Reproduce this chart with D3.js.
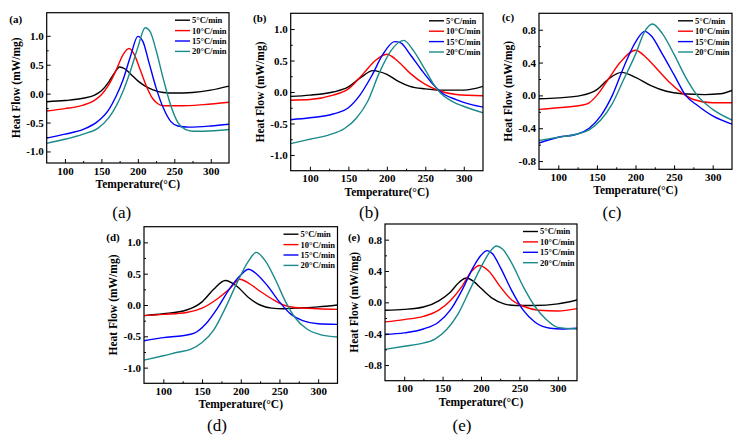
<!DOCTYPE html>
<html><head><meta charset="utf-8">
<script src="https://cdn.jsdelivr.net/npm/d3@7"></script>
<style>
html,body{margin:0;padding:0;background:#fff;}
svg{display:block;}
</style></head>
<body>
<svg id="chart" width="740" height="438"></svg>
<script>
// ---------- DATA ----------
const rates = ["5\u00B0C/min", "10\u00B0C/min", "15\u00B0C/min", "20\u00B0C/min"];
const colors = ["#000000", "#ff0000", "#0000ff", "#1a8a8a"];
const xTicks = [100, 150, 200, 250, 300];
const xMinor = [125, 175, 225, 275];
const yTicksWide = [-1.0, -0.5, 0.0, 0.5, 1.0];
const yTicksNarrow = [-0.8, -0.4, 0.0, 0.4, 0.8];
const panelNames = ["a", "b", "c", "d", "e"];

// panel (a)  [temperature, heat flow]
const a5 = [[75,-0.14],[100,-0.12],[125,-0.08],[140,-0.03],[150,0.05],[160,0.2],[168,0.36],[175,0.46],[182,0.43],[190,0.34],[200,0.22],[210,0.13],[220,0.07],[235,0.02],[250,0.01],[275,0.02],[300,0.06],[325,0.13]];
const a10 = [[75,-0.30],[100,-0.26],[125,-0.2],[140,-0.12],[150,-0.02],[160,0.15],[170,0.4],[180,0.68],[188,0.78],[195,0.68],[203,0.42],[212,0.12],[220,-0.08],[228,-0.18],[235,-0.21],[260,-0.21],[290,-0.19],[325,-0.15]];
const a15 = [[75,-0.77],[100,-0.70],[125,-0.62],[145,-0.48],[160,-0.28],[170,-0.05],[180,0.25],[190,0.65],[200,0.99],[207,0.9],[215,0.55],[225,0.1],[235,-0.25],[245,-0.48],[255,-0.56],[270,-0.58],[300,-0.56],[325,-0.53]];
const a20 = [[75,-0.86],[100,-0.79],[125,-0.7],[145,-0.6],[160,-0.42],[170,-0.22],[180,0.05],[190,0.4],[200,0.8],[210,1.14],[217,1.07],[225,0.75],[235,0.25],[245,-0.2],[255,-0.5],[265,-0.62],[275,-0.65],[290,-0.65],[325,-0.62]];

// panel (b)
const b5 = [[75,-0.07],[100,-0.05],[130,0.0],[150,0.08],[165,0.22],[182,0.34],[200,0.28],[215,0.17],[230,0.09],[250,0.05],[270,0.03],[300,0.03],[325,0.09]];
const b10 = [[75,-0.13],[100,-0.12],[130,-0.05],[150,0.05],[170,0.3],[185,0.5],[200,0.6],[215,0.48],[230,0.3],[250,0.12],[268,0.02],[290,-0.04],[325,-0.06]];
const b15 = [[75,-0.44],[100,-0.41],[130,-0.35],[150,-0.25],[165,-0.05],[180,0.25],[195,0.6],[210,0.8],[218,0.78],[230,0.6],[245,0.35],[258,0.15],[270,0.0],[290,-0.12],[310,-0.2],[325,-0.24]];
const b20 = [[75,-0.82],[100,-0.75],[125,-0.68],[145,-0.58],[160,-0.42],[175,-0.15],[190,0.3],[205,0.65],[222,0.82],[235,0.65],[250,0.35],[262,0.1],[270,-0.02],[285,-0.15],[305,-0.25],[325,-0.33]];

// panel (c)
const c5 = [[75,-0.04],[100,-0.03],[130,0.0],[150,0.07],[165,0.2],[182,0.28],[200,0.22],[220,0.12],[240,0.05],[260,0.02],[290,0.01],[310,0.02],[325,0.06]];
const c10 = [[75,-0.17],[100,-0.15],[130,-0.12],[140,-0.09],[150,0.0],[165,0.2],[180,0.4],[200,0.55],[215,0.45],[230,0.3],[245,0.15],[260,0.03],[275,-0.05],[300,-0.09],[325,-0.09]];
const c15 = [[75,-0.58],[100,-0.51],[125,-0.47],[140,-0.4],[155,-0.25],[170,0.0],[185,0.35],[200,0.65],[212,0.78],[220,0.73],[235,0.5],[250,0.25],[265,0.0],[280,-0.12],[300,-0.25],[325,-0.35]];
const c20 = [[75,-0.55],[100,-0.51],[125,-0.47],[140,-0.42],[155,-0.3],[170,-0.1],[185,0.2],[200,0.5],[212,0.78],[222,0.87],[235,0.75],[250,0.5],[265,0.22],[280,0.0],[300,-0.17],[325,-0.3]];

// panel (d)
const d5 = [[75,-0.17],[100,-0.14],[130,-0.08],[150,0.05],[165,0.25],[180,0.39],[195,0.3],[210,0.12],[225,0.0],[240,-0.05],[255,-0.06],[270,-0.05],[300,-0.03],[325,0.0]];
const d10 = [[75,-0.17],[100,-0.15],[130,-0.12],[150,-0.05],[170,0.1],[185,0.25],[199,0.41],[210,0.35],[225,0.22],[240,0.1],[255,0.0],[270,-0.04],[300,-0.06],[325,-0.07]];
const d15 = [[75,-0.57],[100,-0.52],[125,-0.49],[140,-0.45],[155,-0.3],[170,-0.05],[185,0.25],[200,0.48],[210,0.57],[220,0.5],[235,0.3],[250,0.05],[265,-0.15],[280,-0.25],[300,-0.3],[325,-0.31]];
const d20 = [[75,-0.88],[100,-0.81],[120,-0.75],[135,-0.71],[150,-0.6],[165,-0.4],[180,-0.05],[195,0.35],[210,0.7],[220,0.84],[232,0.7],[245,0.4],[258,0.05],[270,-0.2],[285,-0.38],[305,-0.48],[325,-0.51]];

// panel (e)
const e5 = [[75,-0.1],[100,-0.09],[125,-0.06],[145,0.02],[160,0.13],[172,0.26],[181,0.31],[190,0.27],[200,0.18],[215,0.05],[230,-0.02],[245,-0.04],[270,-0.04],[300,-0.02],[325,0.03]];
const e10 = [[75,-0.25],[100,-0.22],[125,-0.18],[145,-0.1],[160,0.02],[175,0.2],[188,0.4],[198,0.47],[210,0.4],[225,0.2],[240,0.03],[255,-0.05],[275,-0.1],[300,-0.11],[325,-0.08]];
const e15 = [[75,-0.41],[100,-0.39],[125,-0.34],[145,-0.25],[160,-0.1],[175,0.15],[190,0.45],[200,0.6],[208,0.66],[215,0.62],[225,0.45],[240,0.15],[255,-0.1],[270,-0.25],[290,-0.33],[305,-0.34],[325,-0.33]];
const e20 = [[75,-0.6],[100,-0.56],[120,-0.53],[140,-0.47],[155,-0.35],[170,-0.15],[185,0.15],[200,0.45],[212,0.65],[220,0.72],[228,0.68],[240,0.5],[255,0.2],[270,-0.05],[285,-0.22],[300,-0.32],[325,-0.34]];

const seriesByPanel = [[a5,a10,a15,a20],[b5,b10,b15,b20],[c5,c10,c15,c20],[d5,d10,d15,d20],[e5,e10,e15,e20]];
const yDomains = [[-1.2,1.4],[-1.25,1.25],[-0.9,1.0],[-1.25,1.25],[-1.0,1.0]];
const yTickSets = [yTicksWide, yTicksWide, yTicksNarrow, yTicksWide, yTicksNarrow];

// ---------- LAYOUT ----------
const frames = [
  {x0:46.7, x1:229,   y0:12.7,  y1:163,   tagY:19,  capX:121.7, capY:212},
  {x0:290.7,x1:483,   y0:13.3,  y1:170.7, tagY:18,  capX:369,   capY:212},
  {x0:539,  x1:732,   y0:13.3,  y1:169.3, tagY:17,  capX:612,   capY:212},
  {x0:144,  x1:337.5, y0:226.7, y1:383.3, tagY:237, capX:217,   capY:425},
  {x0:385,  x1:577,   y0:224,   y1:380.7, tagY:237, capX:462,   capY:425}
];

const serif = "'Liberation Serif','Times New Roman',serif";
const svg = d3.select("#chart");
const fmt = v => v.toFixed(1);

frames.forEach((f, i) => {
  const g = svg.append("g");
  const x = d3.scaleLinear().domain([75, 325]).range([f.x0, f.x1]);
  const y = d3.scaleLinear().domain(yDomains[i]).range([f.y1, f.y0]);

  // lines
  const line = d3.line().x(d => x(d[0])).y(d => y(d[1])).curve(d3.curveMonotoneX);
  const clipId = "clip" + i;
  svg.append("clipPath").attr("id", clipId).append("rect")
    .attr("x", f.x0).attr("y", f.y0).attr("width", f.x1 - f.x0).attr("height", f.y1 - f.y0);
  seriesByPanel[i].forEach((s, k) => {
    g.append("path").datum(s).attr("d", line).attr("fill", "none")
      .attr("stroke", colors[k]).attr("stroke-width", 1.4).attr("clip-path", `url(#${clipId})`);
  });

  // axes
  const xa = g.append("g").attr("transform", `translate(0,${f.y1})`)
    .call(d3.axisBottom(x).tickValues(xTicks).tickSize(-4).tickPadding(4).tickFormat(d3.format("d")));
  const xm = g.append("g").attr("transform", `translate(0,${f.y1})`)
    .call(d3.axisBottom(x).tickValues(xMinor).tickSize(-2).tickFormat(""));
  const ya = g.append("g").attr("transform", `translate(${f.x0},0)`)
    .call(d3.axisLeft(y).tickValues(yTickSets[i]).tickSize(-4).tickPadding(3).tickFormat(fmt));
  const ym = g.append("g").attr("transform", `translate(${f.x0},0)`)
    .call(d3.axisLeft(y).tickValues(d3.range(0, yTickSets[i].length - 1).map(j => (yTickSets[i][j] + yTickSets[i][j+1]) / 2)).tickSize(-2).tickFormat(""));
  [xa, xm, ya, ym].forEach(a => {
    a.select(".domain").remove();
    a.selectAll("line").attr("stroke", "#000").attr("stroke-width", 1);
    a.selectAll("text").attr("font-family", serif).attr("font-weight", "bold")
      .attr("font-size", 11).attr("fill", "#000");
  });

  // frame
  g.append("rect").attr("x", f.x0).attr("y", f.y0).attr("width", f.x1 - f.x0).attr("height", f.y1 - f.y0)
    .attr("fill", "none").attr("stroke", "#000").attr("stroke-width", 1.2);

  // titles
  g.append("text").attr("x", (f.x0 + f.x1) / 2).attr("y", f.y1 + 25)
    .attr("text-anchor", "middle").attr("font-family", serif).attr("font-weight", "bold")
    .attr("font-size", 11.5).text("Temperature(\u00B0C)");
  g.append("text").attr("transform", `translate(${f.x0 - 27},${(f.y0 + f.y1) / 2}) rotate(-90)`)
    .attr("text-anchor", "middle").attr("font-family", serif).attr("font-weight", "bold")
    .attr("font-size", 11.5).text("Heat Flow (mW/mg)");
  g.append("text").attr("x", f.x0 - 31).attr("y", f.tagY).attr("dy", "0.35em")
    .attr("text-anchor", "middle").attr("font-family", serif).attr("font-weight", "bold")
    .attr("font-size", 11).text("(" + panelNames[i] + ")");
  g.append("text").attr("x", f.capX).attr("y", f.capY).attr("dy", "0.35em")
    .attr("text-anchor", "middle").attr("font-family", serif)
    .attr("font-size", 17).text("(" + panelNames[i] + ")");

  // legend
  rates.forEach((r, k) => {
    const ly = f.y0 + 7.5 + k * 10.4;
    g.append("line").attr("x1", f.x1 - 54).attr("x2", f.x1 - 39).attr("y1", ly).attr("y2", ly)
      .attr("stroke", colors[k]).attr("stroke-width", 1.4);
    g.append("text").attr("x", f.x1 - 37).attr("y", ly).attr("dy", "0.35em")
      .attr("font-family", serif).attr("font-weight", "bold").attr("font-size", 8.5).text(r);
  });
});
</script>
</body></html>
